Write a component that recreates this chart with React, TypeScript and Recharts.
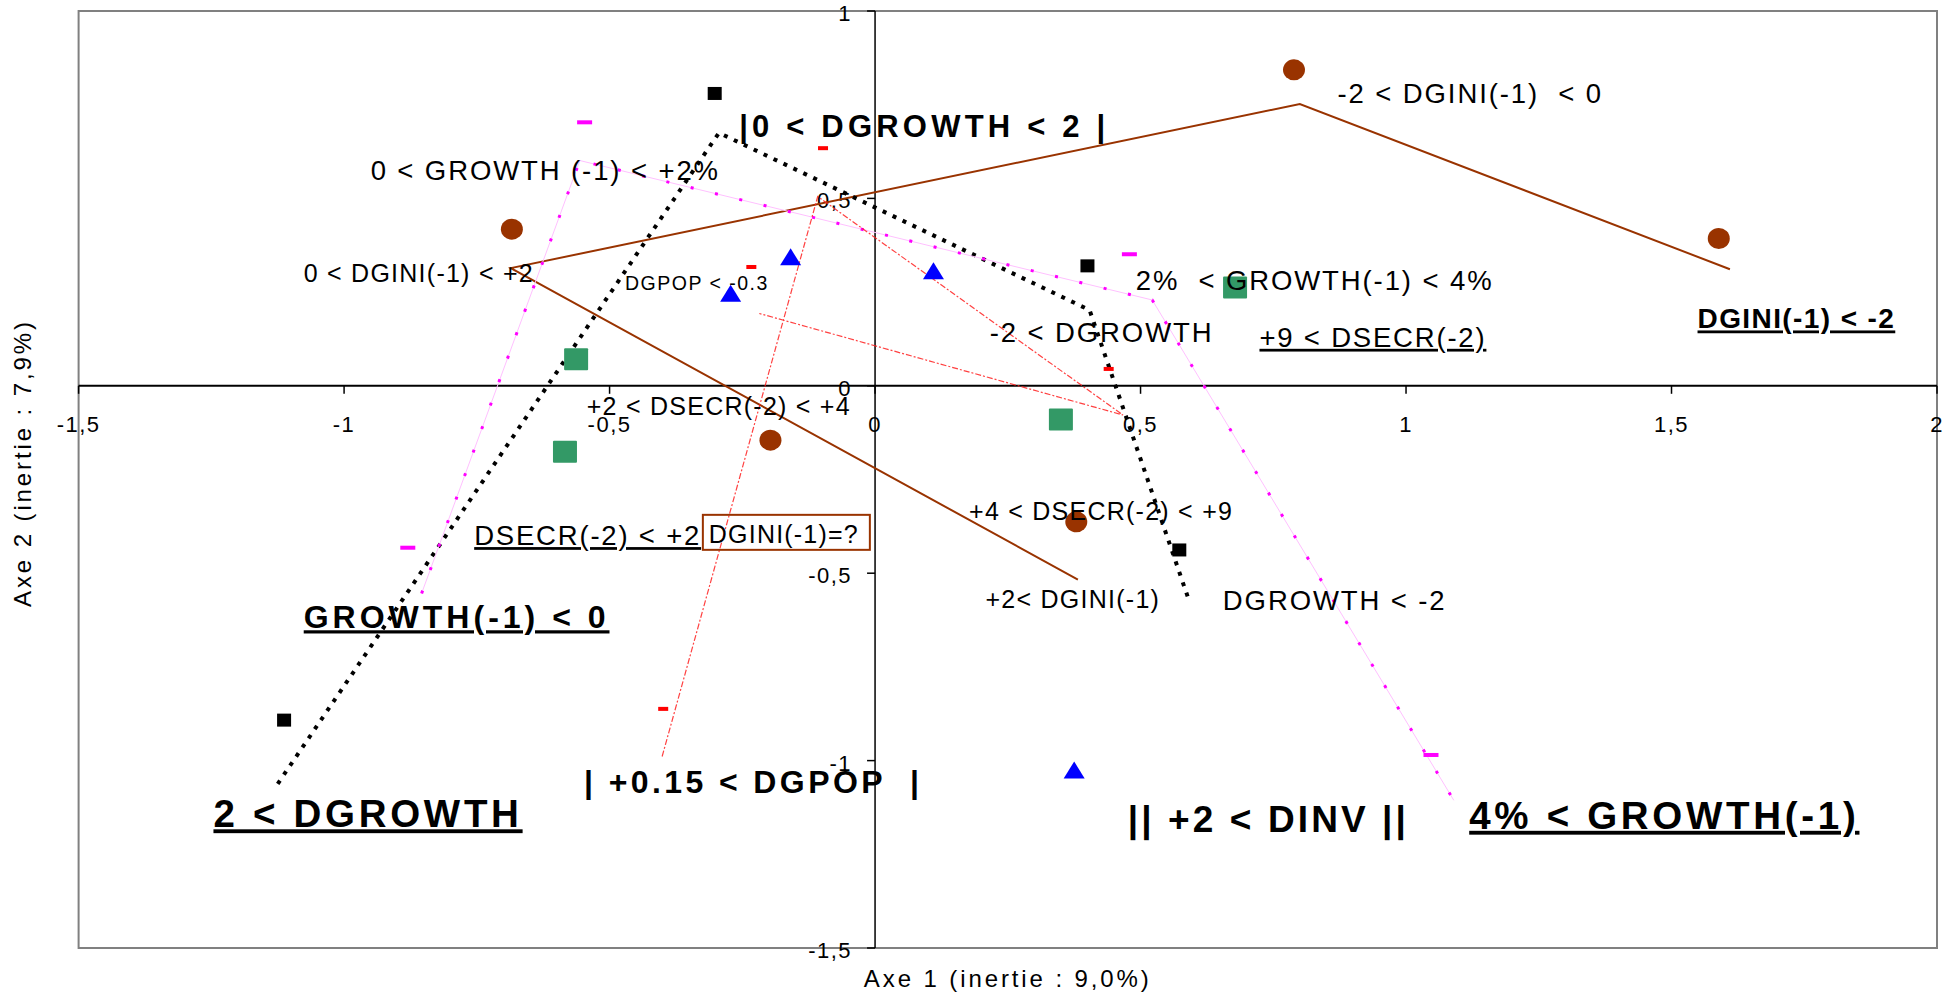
import React from "react";
import {
  ScatterChart,
  Scatter,
  XAxis,
  YAxis,
  ReferenceLine,
  ReferenceArea,
  Label,
} from "recharts";

const FONT = "'Liberation Sans', Arial, sans-serif";

// axis ticks (french decimal comma)
const xTicks = [-1.5, -1, -0.5, 0, 0.5, 1, 1.5, 2];
const xTickLabels = ["-1,5", "-1", "-0,5", "0", "0,5", "1", "1,5", "2"];
const yTicks = [1, 0.5, 0, -0.5, -1, -1.5];
const yTickLabels = ["1", "0,5", "0", "-0,5", "-1", "-1,5"];

// DGINI(-1) modalities : brown circles + trajectory
const dginiX = [-0.684, 0.789, 1.589, -0.197, 0.379];
const dginiY = [0.418, 0.843, 0.393, -0.145, -0.363];
const dginiPathX = [0.382, -0.686, 0.8, 1.61];
const dginiPathY = [-0.517, 0.314, 0.752, 0.311];

// DGROWTH modalities : black squares + dotted trajectory
const dgrowthX = [-1.113, -0.302, 0.4, 0.573];
const dgrowthY = [-0.892, 0.78, 0.32, -0.438];
const dgrowthPathX = [-1.125, -0.294, 0.404, 0.593];
const dgrowthPathY = [-1.062, 0.675, 0.202, -0.58];

// GROWTH(-1) modalities : magenta dashes + trajectory
const growthX = [-0.88, -0.547, 0.479, 1.047];
const growthY = [-0.432, 0.703, 0.351, -0.985];
const growthPathX = [-0.854, -0.556, 0.522, 1.09];
const growthPathY = [-0.554, 0.601, 0.229, -1.106];

// DGPOP modalities : red dashes + trajectory
const dgpopX = [-0.399, -0.098, 0.44, -0.233];
const dgpopY = [-0.862, 0.634, 0.045, 0.317];
const dgpopPathX = [-0.401, -0.108, 0.467, -0.218];
const dgpopPathY = [-0.989, 0.505, -0.078, 0.193];

// DINV modalities : blue triangles
const dinvX = [-0.159, -0.272, 0.11, 0.375];
const dinvY = [0.344, 0.247, 0.307, -1.025];

// DSECR(-2) modalities : green squares
const dsecrX = [-0.584, -0.563, 0.35, 0.678];
const dsecrY = [-0.176, 0.071, -0.09, 0.262];

// text annotations (start of text, baseline)
const noteTexts = [
  "-2 < DGINI(-1)  < 0",
  "|0 < DGROWTH < 2 |",
  "0 < GROWTH (-1) < +2%",
  "0 < DGINI(-1) < +2",
  "DGPOP < -0.3",
  "2%  < GROWTH(-1) < 4%",
  "-2 < DGROWTH",
  "+9 < DSECR(-2)",
  "DGINI(-1) < -2",
  "+2 < DSECR(-2) < +4",
  "DSECR(-2) < +2",
  "DGINI(-1)=?",
  "+4 < DSECR(-2) < +9",
  "+2< DGINI(-1)",
  "DGROWTH < -2",
  "GROWTH(-1) < 0",
  "2 < DGROWTH",
  "| +0.15 < DGPOP  |",
  "|| +2 < DINV ||",
  "4% < GROWTH(-1)",
];
const noteX = [
  0.871, -0.256, -0.95, -1.076, -0.471, 0.491, 0.216, 0.724, 1.549, -0.543,
  -0.755, -0.313, 0.177, 0.208, 0.655, -1.076, -1.246, -0.548, 0.476, 1.119,
];
const noteY = [
  0.755, 0.663, 0.549, 0.278, 0.256, 0.256, 0.118, 0.104, 0.153, -0.077,
  -0.425, -0.419, -0.358, -0.594, -0.598, -0.647, -1.178, -1.087, -1.19, -1.182,
];
const noteKinds = [
  "lg", "b31", "lg", "md", "sm", "lg", "lg", "lgU", "b28U", "md",
  "lgU", "box", "md", "md", "lg", "b32U", "b38U", "b32", "b37", "b38U",
];

const pts = (xs: number[], ys: number[]) => xs.map((x, i) => ({ x, y: ys[i] }));

const NOTE_STYLE: Record<string, { size: number; bold?: boolean; ls: number; underline?: number; box?: boolean }> = {
  lg: { size: 27.5, ls: 1.9 },
  lgU: { size: 27.5, ls: 1.8, underline: 2 },
  md: { size: 25, ls: 1.25 },
  sm: { size: 19.5, ls: 1.5 },
  box: { size: 25, ls: 1.2, box: true },
  b28U: { size: 28, bold: true, ls: 1.4, underline: 3 },
  b31: { size: 31, bold: true, ls: 4.2 },
  b32: { size: 32, bold: true, ls: 3.4 },
  b32U: { size: 32, bold: true, ls: 4, underline: 4 },
  b37: { size: 37, bold: true, ls: 3.1 },
  b38U: { size: 38.5, bold: true, ls: 3.7, underline: 4 },
};

const noShape = () => <g />;

const circleShape = (p: any) => <ellipse cx={p.cx} cy={p.cy} rx={11} ry={10.5} fill="#993300" />;
const blackSquare = (p: any) => <rect x={p.cx - 7} y={p.cy - 6.5} width={14} height={13} fill="#000" />;
const magentaDash = (p: any) => <rect x={p.cx - 7.5} y={p.cy - 2} width={15} height={4} fill="#ff00ff" />;
const redDash = (p: any) => <rect x={p.cx - 5} y={p.cy - 2} width={10} height={4} fill="#ff0000" />;
const blueTriangle = (p: any) => (
  <polygon
    points={`${p.cx},${p.cy - 8.5} ${p.cx + 10.5},${p.cy + 8.5} ${p.cx - 10.5},${p.cy + 8.5}`}
    fill="#0000ff"
  />
);
const greenSquare = (p: any) => (
  <rect x={p.cx - 12} y={p.cy - 11} width={24} height={22} rx={1} fill="#339966" />
);

const xTickShape = (p: any) => (
  <g>
    <line x1={p.cx} y1={p.cy} x2={p.cx} y2={p.cy + 8} stroke="#000" strokeWidth={1.5} />
    <text x={p.cx} y={p.cy + 46} textAnchor="middle" fontSize={22} letterSpacing={1.5} fontFamily={FONT} fill="#000">
      {p.payload.label}
    </text>
  </g>
);

const yTickShape = (p: any) => (
  <g>
    <line x1={p.cx - 8} y1={p.cy} x2={p.cx} y2={p.cy} stroke="#000" strokeWidth={1.5} />
    <text x={p.cx - 23} y={p.cy + 10} textAnchor="end" fontSize={22} letterSpacing={1.5} fontFamily={FONT} fill="#000">
      {p.payload.label}
    </text>
  </g>
);

const noteShape = (p: any) => {
  const s = NOTE_STYLE[p.payload.kind];
  return (
    <g>
      {s.box && (
        <rect x={p.cx - 6} y={p.cy - 28} width={167} height={35} fill="none" stroke="#993300" strokeWidth={2} />
      )}
      <text
        x={p.cx}
        y={p.cy}
        fontSize={s.size}
        fontWeight={s.bold ? 700 : 400}
        letterSpacing={s.ls}
        fontFamily={FONT}
        fill="#000"
        xmlSpace="preserve"
        style={{
          whiteSpace: "pre",
          textDecoration: s.underline ? "underline" : "none",
          textDecorationThickness: s.underline ? `${s.underline}px` : undefined,
        }}
      >
        {p.payload.text}
      </text>
    </g>
  );
};

const axisTitles = (props: any) => {
  const { x, y, width, height } = props.viewBox;
  return (
    <g fontFamily={FONT} fontSize={24} letterSpacing={2.9} fill="#000">
      <text x={x + width / 2} y={y + height + 38.7} textAnchor="middle">
        Axe 1 (inertie : 9,0%)
      </text>
      <text transform={`translate(${x - 47.6}, ${y + height / 2 - 16.5}) rotate(-90)`} textAnchor="middle">
        Axe 2 (inertie : 7,9%)
      </text>
    </g>
  );
};

export default function App() {
  const xTickData = xTicks.map((v, i) => ({ x: v, y: 0, label: xTickLabels[i] }));
  const yTickData = yTicks.map((v, i) => ({ x: 0, y: v, label: yTickLabels[i] }));
  const notes = noteTexts.map((text, i) => ({ x: noteX[i], y: noteY[i], text, kind: noteKinds[i] }));

  return (
    <div
      style={{
        position: "absolute",
        left: 0,
        top: 0,
        width: 1951,
        height: 996,
        fontFamily: FONT,
        background: "#fff",
      }}
    >
      <ScatterChart width={1951} height={996} margin={{ top: 11, right: 14, bottom: 48, left: 78.6 }}>
        <XAxis type="number" dataKey="x" domain={[-1.5, 2]} hide />
        <YAxis type="number" dataKey="y" domain={[-1.5, 1]} hide />

        <ReferenceArea x1={-1.5} x2={2} y1={-1.5} y2={1} fill="none" stroke="#808080" strokeWidth={2}>
          <Label content={axisTitles} />
        </ReferenceArea>
        <ReferenceLine x={0} stroke="#000" strokeWidth={1.5} />
        <ReferenceLine y={0} stroke="#000" strokeWidth={2} />

        <Scatter data={xTickData} shape={xTickShape} isAnimationActive={false} />
        <Scatter data={yTickData} shape={yTickShape} isAnimationActive={false} />

        {/* trajectories */}
        <Scatter
          data={pts(dginiPathX, dginiPathY)}
          shape={noShape}
          line={{ stroke: "#993300", strokeWidth: 2 }}
          isAnimationActive={false}
        />
        <Scatter
          data={pts(dgrowthPathX, dgrowthPathY)}
          shape={noShape}
          line={{ stroke: "#000", strokeWidth: 4, strokeDasharray: "4 7" }}
          isAnimationActive={false}
        />
        <Scatter
          data={pts(growthPathX, growthPathY)}
          shape={noShape}
          line={{ stroke: "#ffc0ff", strokeWidth: 1 }}
          isAnimationActive={false}
        />
        <Scatter
          data={pts(growthPathX, growthPathY)}
          shape={noShape}
          line={{ stroke: "#ff00ff", strokeWidth: 3, strokeDasharray: "3 22" }}
          isAnimationActive={false}
        />
        <Scatter
          data={pts(dgpopPathX, dgpopPathY)}
          shape={noShape}
          line={{ stroke: "#ff2020", strokeWidth: 1.2, strokeDasharray: "6 2 2 2", strokeOpacity: 0.85 }}
          isAnimationActive={false}
        />

        {/* modalities */}
        <Scatter data={pts(dginiX, dginiY)} shape={circleShape} isAnimationActive={false} />
        <Scatter data={pts(dgrowthX, dgrowthY)} shape={blackSquare} isAnimationActive={false} />
        <Scatter data={pts(growthX, growthY)} shape={magentaDash} isAnimationActive={false} />
        <Scatter data={pts(dgpopX, dgpopY)} shape={redDash} isAnimationActive={false} />
        <Scatter data={pts(dinvX, dinvY)} shape={blueTriangle} isAnimationActive={false} />
        <Scatter data={pts(dsecrX, dsecrY)} shape={greenSquare} isAnimationActive={false} />

        <Scatter data={notes} shape={noteShape} isAnimationActive={false} />
      </ScatterChart>
    </div>
  );
}
